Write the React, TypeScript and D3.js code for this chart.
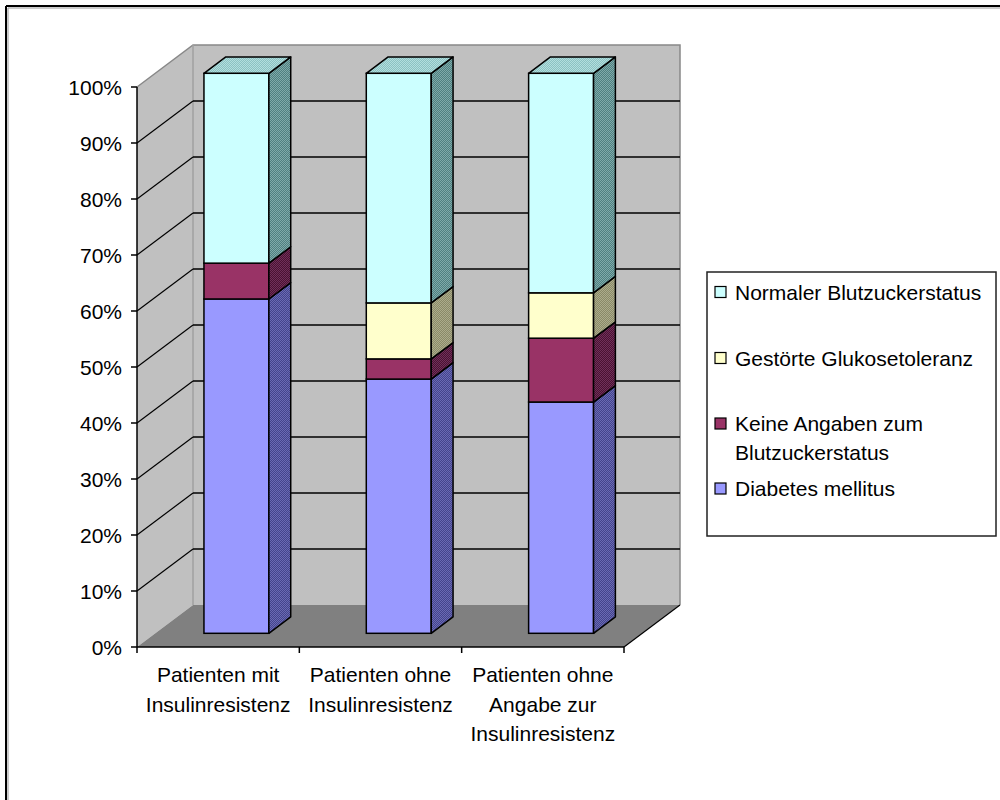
import React from 'react';
import * as d3 from 'd3';

// Categories (x axis) with their multi-line labels
const categories = ['mit', 'ohne', 'ohneAngabe'];
const categoryLabels = [
  ['Patienten mit', 'Insulinresistenz'],
  ['Patienten ohne', 'Insulinresistenz'],
  ['Patienten ohne', 'Angabe zur', 'Insulinresistenz'],
];

// Series values in percent, stacked bottom to top
const diabetesMellitus = [59.7, 45.4, 41.3];
const keineAngaben = [6.4, 3.6, 11.4];
const gestoerteGlukosetoleranz = [0, 10.0, 8.1];
const normalerBlutzucker = [33.9, 41.0, 39.2];

const yTicks = [0, 10, 20, 30, 40, 50, 60, 70, 80, 90, 100];

const seriesKeys = ['diabetes', 'keine', 'gestoert', 'normal'];
const seriesStyle: Record<string, { front: string; side: [string, string]; top: [string, string] }> = {
  diabetes: { front: '#9999FF', side: ['#44448c', '#6a6ab4'], top: ['#7a7ad0', '#a0a0ff'] },
  keine: { front: '#993366', side: ['#4a1232', '#70305a'], top: ['#7a2a52', '#a04070'] },
  gestoert: { front: '#FFFFCC', side: ['#8a8a68', '#acac8c'], top: ['#d0d0a8', '#e8e8c0'] },
  normal: { front: '#CCFFFF', side: ['#4f8080', '#7faaaa'], top: ['#8cc2c2', '#b2dede'] },
};

// Legend entries, top to bottom
const legendEntries = [
  { key: 'normal', lines: ['Normaler Blutzuckerstatus'] },
  { key: 'gestoert', lines: ['Gestörte Glukosetoleranz'] },
  { key: 'keine', lines: ['Keine Angaben zum', 'Blutzuckerstatus'] },
  { key: 'diabetes', lines: ['Diabetes mellitus'] },
];
const legendBaselines = [[299.5], [365.5], [431, 459.5], [496]];

const FONT = 'Arial, "Liberation Sans", sans-serif';

export default function App() {
  // Plot geometry: front plane of the axes and the depth offset to the back wall
  const x0 = 137;
  const x1 = 624;
  const yBottom = 647;
  const yTop = 87;
  const DX = 56;
  const DY = 42;
  const zFront = 0.326;
  const zBack = 0.716;

  const x = d3.scaleBand<string>().domain(categories).range([x0, x1]).paddingInner(0.6).paddingOuter(0.3);
  const y = d3.scaleLinear().domain([0, 100]).range([yBottom, yTop]);

  const rows = categories.map((c, i) => ({
    cat: c,
    diabetes: diabetesMellitus[i],
    keine: keineAngaben[i],
    gestoert: gestoerteGlukosetoleranz[i],
    normal: normalerBlutzucker[i],
  }));
  const stacked = d3.stack<any>().keys(seriesKeys)(rows);

  const fx = zFront * DX;
  const fy = zFront * DY;
  const ddx = (zBack - zFront) * DX;
  const ddy = (zBack - zFront) * DY;

  const pts = (p: [number, number][]) => p.map((q) => q.join(',')).join(' ');

  const bars: React.ReactNode[] = [];
  categories.forEach((cat, i) => {
    const bx0 = (x(cat) as number) + fx;
    const bx1 = bx0 + x.bandwidth();
    // topmost non-empty segment of this stack
    let topKey = '';
    stacked.forEach((s) => {
      if (s[i][1] - s[i][0] > 0) topKey = s.key;
    });
    stacked.forEach((s) => {
      const [v0, v1] = s[i];
      if (v1 - v0 <= 0) return;
      const yt = y(v1) - fy;
      const yb = y(v0) - fy;
      const k = s.key;
      bars.push(
        <g key={`${cat}-${k}`}>
          <rect x={bx0} y={yt} width={bx1 - bx0} height={yb - yt} fill={seriesStyle[k].front} stroke="#000" strokeWidth={1.5} />
          <polygon
            points={pts([[bx1, yb], [bx1, yt], [bx1 + ddx, yt - ddy], [bx1 + ddx, yb - ddy]])}
            fill={`url(#side-${k})`}
            stroke="#000"
            strokeWidth={1.5}
            strokeLinejoin="round"
          />
          {k === topKey && (
            <polygon
              points={pts([[bx0, yt], [bx1, yt], [bx1 + ddx, yt - ddy], [bx0 + ddx, yt - ddy]])}
              fill={`url(#top-${k})`}
              stroke="#000"
              strokeWidth={1.5}
              strokeLinejoin="round"
            />
          )}
        </g>
      );
    });
  });

  const checker = (id: string, c: [string, string]) => (
    <pattern id={id} key={id} patternUnits="userSpaceOnUse" width={2} height={2}>
      <rect width={2} height={2} fill={c[0]} />
      <rect x={0} y={0} width={1} height={1} fill={c[1]} />
      <rect x={1} y={1} width={1} height={1} fill={c[1]} />
    </pattern>
  );

  const gridTicks = yTicks.filter((t) => t > 0 && t < 100);

  return (
    <svg width={1000} height={800} style={{ position: 'absolute', left: 0, top: 0, background: '#fff' }} fontFamily={FONT}>
      <defs>
        {seriesKeys.map((k) => checker(`side-${k}`, seriesStyle[k].side))}
        {seriesKeys.map((k) => checker(`top-${k}`, seriesStyle[k].top))}
      </defs>

      {/* chart frame */}
      <line x1={6} y1={6} x2={1000} y2={6} stroke="#000" strokeWidth={2} />
      <line x1={6} y1={6} x2={6} y2={800} stroke="#000" strokeWidth={2} />
      <line x1={8} y1={8} x2={1000} y2={8} stroke="#999" strokeWidth={1} />
      <line x1={8} y1={8} x2={8} y2={800} stroke="#999" strokeWidth={1} />

      {/* walls and floor */}
      <polygon points={pts([[x0, y(100)], [x0 + DX, y(100) - DY], [x0 + DX, y(0) - DY], [x0, y(0)]])} fill="#c0c0c0" />
      <polygon points={pts([[x0 + DX, y(100) - DY], [x1 + DX, y(100) - DY], [x1 + DX, y(0) - DY], [x0 + DX, y(0) - DY]])} fill="#c0c0c0" />
      <polygon points={pts([[x0, y(0)], [x1, y(0)], [x1 + DX, y(0) - DY], [x0 + DX, y(0) - DY]])} fill="#808080" />

      {/* wall borders */}
      <polyline
        points={pts([[x0, y(100)], [x0 + DX, y(100) - DY], [x1 + DX, y(100) - DY], [x1 + DX, y(0) - DY]])}
        fill="none"
        stroke="#888"
        strokeWidth={1.5}
      />
      <line x1={x0 + DX} y1={y(100) - DY} x2={x0 + DX} y2={y(0) - DY} stroke="#a0a0a0" strokeWidth={1.5} />

      {/* gridlines */}
      {gridTicks.map((t) => (
        <g key={`g${t}`}>
          <line x1={x0} y1={y(t)} x2={x0 + DX} y2={y(t) - DY} stroke="#000" strokeWidth={1.2} />
          <line x1={x0 + DX} y1={y(t) - DY} x2={x1 + DX} y2={y(t) - DY} stroke="#000" strokeWidth={1.5} />
        </g>
      ))}
      <line x1={x1} y1={y(0)} x2={x1 + DX} y2={y(0) - DY} stroke="#000" strokeWidth={1.2} />

      {/* axes */}
      <line x1={x0} y1={y(100)} x2={x0} y2={y(0)} stroke="#000" strokeWidth={1.5} />
      <line x1={x0} y1={y(0)} x2={x1} y2={y(0)} stroke="#000" strokeWidth={1.5} />
      {yTicks.map((t) => (
        <g key={`yt${t}`}>
          <line x1={x0 - 6} y1={y(t)} x2={x0} y2={y(t)} stroke="#000" strokeWidth={1.5} />
          <text x={122} y={y(t) + 7.5} textAnchor="end" fontSize={21} fill="#000">
            {`${t}%`}
          </text>
        </g>
      ))}
      {[...categories.map((c) => x(c)! - x.step() * x.paddingInner() / 2), x1].map((tx, i) => (
        <line key={`xt${i}`} x1={i === 0 ? x0 : tx} y1={y(0)} x2={i === 0 ? x0 : tx} y2={y(0) + 6} stroke="#000" strokeWidth={1.5} />
      ))}
      {categories.map((c, i) => (
        <text key={`xl${c}`} textAnchor="middle" fontSize={21} fill="#000">
          {categoryLabels[i].map((ln, j) => (
            <tspan key={j} x={(x(c) as number) + x.bandwidth() / 2} y={682 + j * 29.5}>
              {ln}
            </tspan>
          ))}
        </text>
      ))}

      {/* bars */}
      {bars}

      {/* legend */}
      <rect x={707} y={272} width={289} height={264} fill="#fff" stroke="#222" strokeWidth={1.5} />
      {legendEntries.map((e, i) => (
        <g key={e.key}>
          <rect x={715} y={legendBaselines[i][0] - 13} width={11} height={11} fill={seriesStyle[e.key].front} stroke="#000" strokeWidth={1.2} />
          {e.lines.map((ln, j) => (
            <text key={j} x={735} y={legendBaselines[i][j]} fontSize={21} fill="#000">
              {ln}
            </text>
          ))}
        </g>
      ))}
    </svg>
  );
}
